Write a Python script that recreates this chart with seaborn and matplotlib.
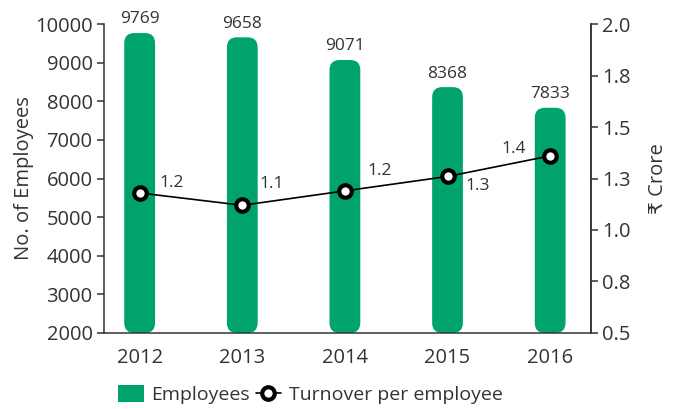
import numpy as np
import pandas as pd
import seaborn as sns
import matplotlib.pyplot as plt
from matplotlib.patches import FancyBboxPatch, Patch
from matplotlib.lines import Line2D

years = ['2012', '2013', '2014', '2015', '2016']
employees = [9769, 9658, 9071, 8368, 7833]
turnover = [1.18, 1.12, 1.19, 1.26, 1.36]
right_ticks = [0.5, 0.75, 1.0, 1.25, 1.5, 1.75, 2.0]
right_labels = ['0.5', '0.8', '1.0', '1.3', '1.5', '1.8', '2.0']
# offsets (points) of the turnover labels from their markers
label_offsets = [(23, 7), (21, 15), (25, 14), (22, -7), (-26, 5)]

green = '#00A36C'
dark = '#333333'

sns.set_style('white')
plt.rcParams['font.family'] = ['Open Sans', 'DejaVu Sans']
plt.rcParams['text.color'] = dark
plt.rcParams['axes.labelcolor'] = dark
plt.rcParams['xtick.color'] = dark
plt.rcParams['ytick.color'] = dark

df = pd.DataFrame({'year': years, 'employees': employees, 'turnover': turnover})

fig = plt.figure(figsize=(6.78, 4.09), dpi=100)
ax = fig.add_axes([0.153, 0.186, 0.719, 0.755])

sns.barplot(data=df, x='year', y='employees', color=green, width=0.3,
            saturation=1, ax=ax)
ax.set_xlim(-0.35, 4.4)
ax.set_ylim(2000, 10000)

# turn the bars into rounded capsules, starting at the axis bottom
fig.canvas.draw()
p0 = ax.transData.transform((0, 0))
p1 = ax.transData.transform((1, 1))
aspect = (1 / (p1[1] - p0[1])) / (1 / (p1[0] - p0[0]))
rad_px = 10
rad = rad_px / (p1[0] - p0[0])
ybot = ax.get_ylim()[0]
for p in list(ax.patches):
    x0, w, h = p.get_x(), p.get_width(), p.get_height()
    p.remove()
    box = FancyBboxPatch((x0, ybot), w, h - ybot,
                         boxstyle=f'round,pad=0,rounding_size={rad}',
                         mutation_aspect=aspect, facecolor=green,
                         edgecolor='none', zorder=2)
    ax.add_patch(box)
    ax.annotate(f'{h:.0f}', (x0 + w / 2, h), xytext=(0, 4),
                textcoords='offset points', ha='center', va='bottom',
                fontsize=12.5)

ax.set_yticks(range(2000, 10001, 1000))
ax.set_xlabel('')
ax.set_ylabel('No. of Employees', fontsize=14.5, labelpad=1)
ax.tick_params(axis='y', labelsize=14.5, length=5, width=1.1, direction='out',
               left=True, pad=3)
ax.tick_params(axis='x', labelsize=14.5, length=0, pad=11)

ax2 = ax.twinx()
sns.pointplot(data=df, x='year', y='turnover', color='black', ax=ax2,
              markers='o', linestyles='-', linewidth=1.2,
              markersize=9, markerfacecolor='white', markeredgewidth=3)
ax2.set_xlim(-0.35, 4.4)
ax2.set_ylim(0.5, 2.0)
ax2.set_yticks(right_ticks)
ax2.set_yticklabels(right_labels)
ax2.set_ylabel('₹ Crore', fontsize=14.5, labelpad=12)
ax2.tick_params(axis='y', labelsize=14.5, length=5, width=1.1, direction='out',
                right=True, pad=3)

for i, (v, off) in enumerate(zip(turnover, label_offsets)):
    ax2.annotate(f'{v:.1f}', (i, v), xytext=off, textcoords='offset points',
                 ha='center', va='center', fontsize=12.5)

for a in (ax, ax2):
    a.spines['top'].set_visible(False)
    for s in ('left', 'right', 'bottom'):
        a.spines[s].set_color(dark)
        a.spines[s].set_linewidth(1.1)
ax2.spines['left'].set_visible(False)
ax2.spines['bottom'].set_visible(False)

handles = [Patch(facecolor=green, edgecolor='none'),
           Line2D([], [], color='black', linewidth=1.2, marker='o',
                  markersize=9, markerfacecolor='white', markeredgewidth=3)]
fig.legend(handles, ['Employees', 'Turnover per employee'], loc='center',
           bbox_to_anchor=(0.458, 0.035), ncol=2, frameon=False, fontsize=14,
           handlelength=1.3, handletextpad=0.4, columnspacing=0.3,
           handleheight=1.0)

fig.savefig('out.png', dpi=100)
